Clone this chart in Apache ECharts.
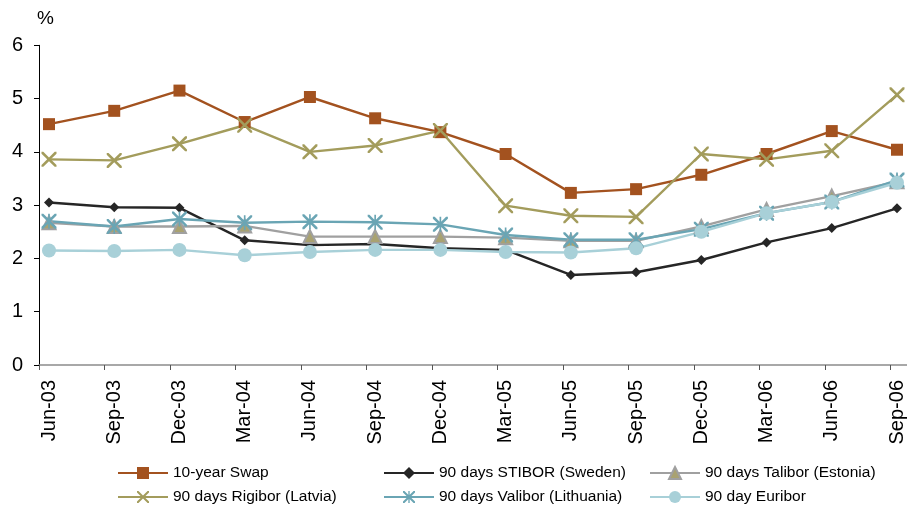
<!DOCTYPE html>
<html>
<head>
<meta charset="utf-8">
<script src="https://cdn.jsdelivr.net/npm/echarts@6/dist/echarts.min.js"></script>
<style>html,body{margin:0;padding:0;background:#fff;}#c{width:907px;height:509px;}</style>
</head>
<body>
<div id="c"></div>
<script>
var categories = ['Jun-03','Sep-03','Dec-03','Mar-04','Jun-04','Sep-04','Dec-04','Mar-05','Jun-05','Sep-05','Dec-05','Mar-06','Jun-06','Sep-06'];
var swap10y   = [4.52,4.77,5.15,4.56,5.03,4.63,4.37,3.96,3.23,3.30,3.57,3.96,4.39,4.04];
var stibor    = [3.05,2.96,2.95,2.34,2.25,2.27,2.19,2.16,1.69,1.74,1.97,2.30,2.57,2.94];
var talibor   = [2.67,2.60,2.60,2.61,2.41,2.41,2.41,2.39,2.33,2.33,2.60,2.92,3.17,3.44];
var rigibor   = [3.86,3.84,4.15,4.50,4.00,4.12,4.40,2.99,2.80,2.78,3.96,3.86,4.02,5.07];
var valibor   = [2.70,2.60,2.74,2.67,2.69,2.68,2.64,2.44,2.35,2.35,2.55,2.85,3.06,3.47];
var euribor   = [2.15,2.14,2.16,2.06,2.12,2.16,2.16,2.12,2.11,2.19,2.50,2.85,3.06,3.42];
var yTicks = [0,1,2,3,4,5,6];

var FONT = 'Liberation Sans, Arial, sans-serif';
var xPath = 'path://M0,0L2.4,0L10,7.6L17.6,0L20,0L20,2.4L12.4,10L20,17.6L20,20L17.6,20L10,12.4L2.4,20L0,20L0,17.6L7.6,10L0,2.4Z';
var starPath = 'path://M0,0L2.4,0L10,7.6L17.6,0L20,0L20,2.4L12.4,10L20,17.6L20,20L17.6,20L10,12.4L2.4,20L0,20L0,17.6L7.6,10L0,2.4Z M8.9,0L11.1,0L11.1,20L8.9,20Z';

function mk(name, data, color, symbol, size, extra) {
  var s = {
    name: name, type: 'line', data: data,
    xAxisIndex: 1, yAxisIndex: 1,
    symbol: symbol, symbolSize: size,
    lineStyle: {color: color, width: 2.4},
    itemStyle: {color: color},
    emphasis: {disabled: true},
    animation: false
  };
  if (extra) { for (var k in extra) s[k] = extra[k]; }
  return s;
}

var series = [
  mk('10-year Swap', swap10y, '#A3521F', 'rect', 12),
  mk('90 days STIBOR (Sweden)', stibor, '#262626', 'diamond', 10),
  mk('90 days Talibor (Estonia)', talibor, '#A0A0A0', 'triangle', 13, {itemStyle: {color: '#A9A271', borderColor: '#A0A0A0', borderWidth: 2}}),
  mk('90 days Rigibor (Latvia)', rigibor, '#A39C5C', xPath, 15),
  mk('90 days Valibor (Lithuania)', valibor, '#6AA5B4', starPath, 15),
  mk('90 day Euribor', euribor, '#A8D0D8', 'circle', 14)
];

var chart = echarts.init(document.getElementById('c'), null, {renderer: 'canvas'});
var legendText = {fontSize: 15.5, color: '#000', fontFamily: FONT};
function lg(left, top, name) {
  return {
    orient: 'horizontal', left: left, top: top, padding: 0,
    itemWidth: 50, itemHeight: 15,
    textStyle: legendText, data: [name], selectedMode: false
  };
}
chart.setOption({
  animation: false,
  backgroundColor: '#fff',
  graphic: [{type: 'text', left: 37, top: 9, style: {text: '%', fontSize: 19, fontFamily: FONT, fill: '#000'}}],
  legend: [
    lg(117, 465, '10-year Swap'),
    lg(117, 489, '90 days Rigibor (Latvia)'),
    lg(383, 465, '90 days STIBOR (Sweden)'),
    lg(383, 489, '90 days Valibor (Lithuania)'),
    lg(649, 465, '90 days Talibor (Estonia)'),
    lg(649, 489, '90 day Euribor')
  ],
  grid: [
    {left: 39, right: 0, top: 45.3, bottom: 144},
    {left: 49, right: 6.5, top: 45.3, bottom: 144}
  ],
  xAxis: [
    {type: 'value', gridIndex: 0, min: 0, max: 13.25, interval: 1,
     axisLine: {show: true, lineStyle: {color: '#8C8C8C', width: 1.5}},
     axisTick: {show: true, length: 5, lineStyle: {color: '#555'}},
     axisLabel: {show: false}, splitLine: {show: false}},
    {type: 'category', gridIndex: 1, data: categories, boundaryGap: false,
     axisLine: {show: false}, axisTick: {show: false}, splitLine: {show: false},
     axisLabel: {rotate: 90, margin: 15, fontSize: 20, color: '#000', fontFamily: FONT, interval: 0}}
  ],
  yAxis: [
    {type: 'value', gridIndex: 0, min: 0, max: 6, interval: 1,
     axisLine: {show: true, lineStyle: {color: '#000', width: 1}},
     axisTick: {show: true, length: 5, lineStyle: {color: '#000'}},
     axisLabel: {margin: 16, fontSize: 20, color: '#000', fontFamily: FONT,
       formatter: function (v) { return yTicks.indexOf(v) >= 0 ? String(v) : ''; }},
     splitLine: {show: false}},
    {type: 'value', gridIndex: 1, min: 0, max: 6, interval: 1, show: false}
  ],
  series: series
});
</script>
</body>
</html>
